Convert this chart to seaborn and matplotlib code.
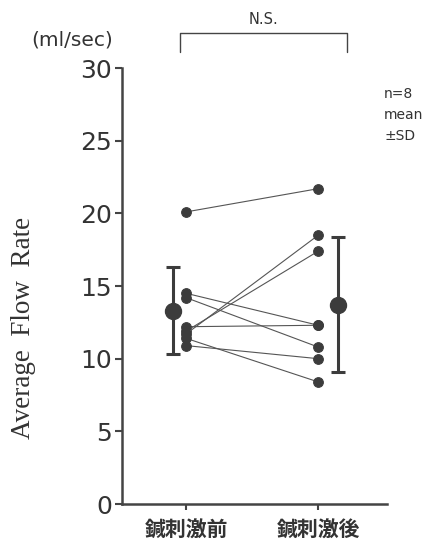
import pandas as pd
import numpy as np
import matplotlib
matplotlib.use('Agg')
import matplotlib.pyplot as plt
import seaborn as sns

# values (ml/sec)
conditions = ['鍼刺激前', '鍼刺激後']
pre = [20.1, 14.5, 14.2, 12.2, 11.9, 11.7, 11.4, 10.9]
post = [21.7, 12.3, 10.8, 12.3, 17.4, 18.5, 8.4, 10.0]
means = [13.3, 13.7]
sds = [3.0, 4.65]
y_ticks = [0, 5, 10, 15, 20, 25, 30]

sns.set_style('ticks')
plt.rcParams['font.family'] = ['DejaVu Sans', 'Noto Sans CJK JP']

# long table: one row per subject per condition
rows = []
for i, (a, b) in enumerate(zip(pre, post)):
    rows.append({'subject': i, 'x': 0, 'value': a})
    rows.append({'subject': i, 'x': 1, 'value': b})
df = pd.DataFrame(rows)

fig = plt.figure(figsize=(4.26, 5.47), dpi=100)
ax = fig.add_axes([0.2864, 0.0786, 0.622, 0.797])

ink = '#3c3c3c'
sns.lineplot(data=df, x='x', y='value', units='subject', estimator=None,
             color='#555555', linewidth=0.8, marker='o', markersize=7,
             markerfacecolor=ink, markeredgecolor=ink, ax=ax, legend=False)

# mean +/- SD beside each column
ax.errorbar([-0.1, 1.15], means, yerr=sds, fmt='o', color=ink,
            markersize=11.5, elinewidth=2.2, capsize=5, capthick=2.2,
            clip_on=False, zorder=5)

ax.set_xlim(-0.485, 1.52)
ax.set_ylim(0, 30)
ax.set_yticks(y_ticks)
ax.set_yticklabels([str(t) for t in y_ticks], fontsize=18, color='#333333')
ax.set_xticks([0, 1])
ax.set_xticklabels(conditions, fontsize=15, fontweight='bold',
                   family=['Noto Sans CJK JP'], color='#333333')
ax.tick_params(axis='y', length=5, width=1.5, pad=2, color='#444444')
ax.tick_params(axis='x', length=4, width=1.5, pad=7, color='#444444')
ax.set_xlabel('')
ax.set_ylabel('Average  Flow  Rate', family='Liberation Serif',
              fontsize=19.5, color='#333333', va='center')
ax.yaxis.set_label_coords(-0.372, 0.404)
for s in ['left', 'bottom']:
    ax.spines[s].set_linewidth(1.8)
    ax.spines[s].set_color('#444444')
sns.despine(ax=ax)

# unit label, significance bracket and legend note
fig.text(31 / 426, 1 - 40 / 547, '(ml/sec)', fontsize=14.5, color='#333333',
         va='center', ha='left')
bx0, bx1, by_top, by_bot = 180 / 426, 347 / 426, 1 - 33 / 547, 1 - 52 / 547
fig.add_artist(plt.Line2D([bx0, bx0, bx1, bx1], [by_bot, by_top, by_top, by_bot],
                          color='#444444', linewidth=1.0, transform=fig.transFigure))
fig.text(263 / 426, 1 - 19 / 547, 'N.S.', fontsize=10.5, color='#333333',
         ha='center', va='center')
fig.text(384 / 426, 1 - 115 / 547, 'n=8\nmean\n±SD', fontsize=10,
         color='#333333', ha='left', va='center', linespacing=1.65)

fig.savefig('out.png', dpi=100)
